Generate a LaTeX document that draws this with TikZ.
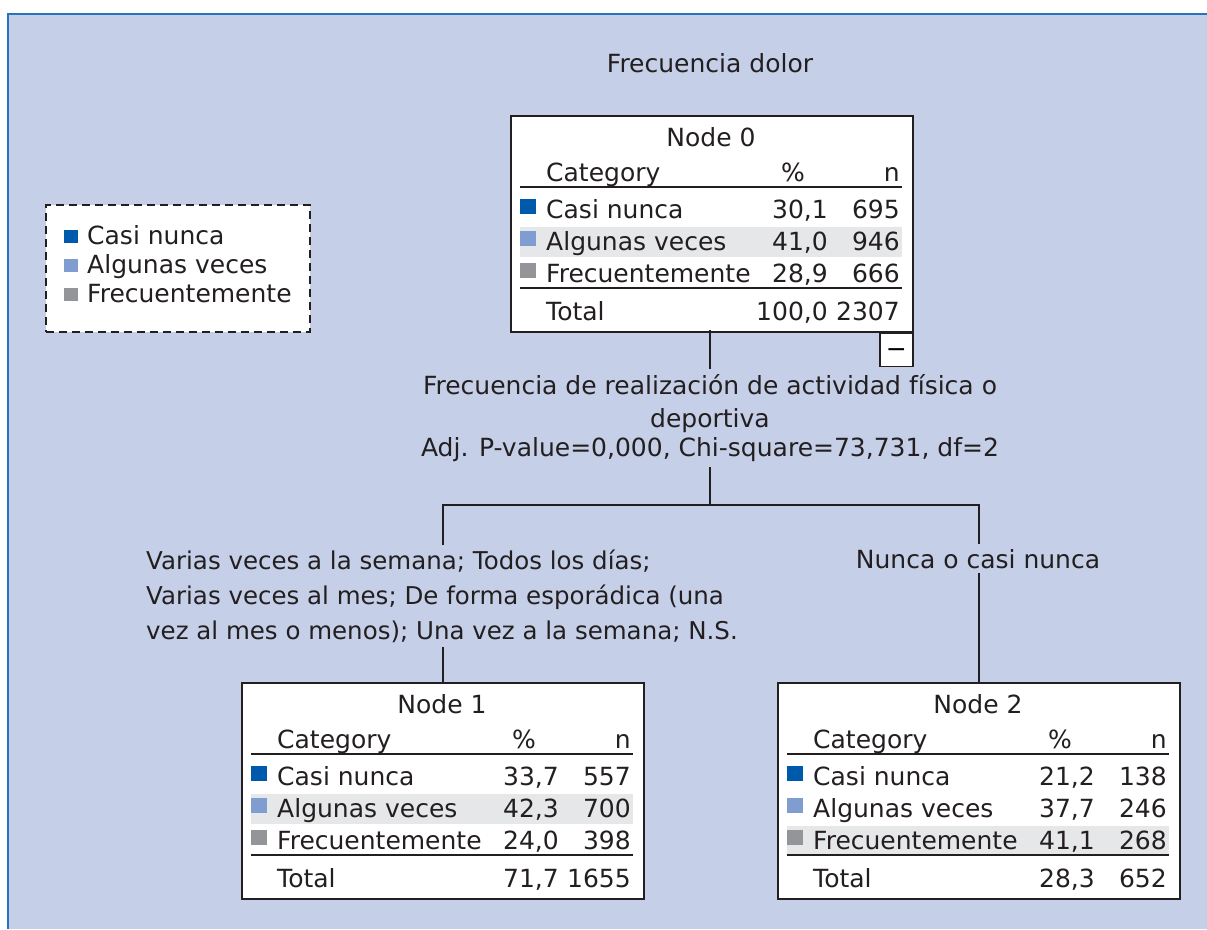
\documentclass[tikz,border=0pt]{standalone}
\usepackage{fontspec}
\setmainfont{DejaVu Sans}
\usetikzlibrary{positioning}

\definecolor{bgcol}{HTML}{C5CFE7}
\definecolor{edgeblue}{HTML}{2673BF}
\definecolor{framecol}{HTML}{231F20}
\definecolor{casicol}{HTML}{005AAB}
\definecolor{algcol}{HTML}{7F9DD1}
\definecolor{freccol}{HTML}{939598}
\definecolor{hlgray}{HTML}{E6E7E9}

\newcommand\tabfont{\fontsize{25}{33}\selectfont}

\tikzset{
  txt/.style={inner sep=0pt, font=\tabfont, text=framecol},
  tabbox/.style={draw=framecol, line width=1.5pt, fill=white, minimum width=402pt, minimum height=216pt, anchor=north west, inner sep=0pt},
  rule/.style={draw=framecol, line width=1.8pt},
  conn/.style={draw=framecol, line width=1.8pt},
  lab/.style={fill=bgcol, inner sep=5pt, font=\tabfont, text=framecol}
}

% one table node of the tree: name, x, y, title, shaded row, rows, total %, total n
\newcommand\spssnode[8]{%
  \begin{scope}[shift={(#2,#3)}]
    \node[tabbox] (#1) at (0,0) {};
    \fill[hlgray] (10,{80+32*#5}) rectangle (392,{110+32*#5});
    \node[txt, anchor=base] (#1-title) at (201,31) {#4};
    \node[txt, anchor=base west] (#1-cat) at (36,66) {Category};
    \node[txt, anchor=base] (#1-pct) at (283,66) {\%};
    \node[txt, anchor=base east] (#1-n) at (390,66) {n};
    \draw[rule] (10,72) -- (392,72);
    \foreach \col/\cat/\pc/\nn [count=\i from 0] in {#6} {
      \fill[\col] (10,{84+32*\i}) rectangle +(16,15);
      \node[txt, anchor=base west] (#1-c\i) at (36,{103+32*\i}) {\cat};
      \node[txt, anchor=base east] (#1-p\i) at (318,{103+32*\i}) {\pc};
      \node[txt, anchor=base east] (#1-n\i) at (390,{103+32*\i}) {\nn};
    }
    \draw[rule] (10,173) -- (392,173);
    \node[txt, anchor=base west] (#1-tot) at (36,205) {Total};
    \node[txt, anchor=base east] (#1-ptot) at (318,205) {#7};
    \node[txt, anchor=base east] (#1-ntot) at (390,205) {#8};
  \end{scope}}

\begin{document}
\begin{tikzpicture}[x=1pt, y=-1pt]
  \useasboundingbox (0,0) rectangle (1207,929);
  \fill[bgcol] (8,14) rectangle (1207,929);
  \draw[edgeblue, line width=1.5pt] (8,929) -- (8,14) -- (1207,14);

  % title and legend
  \node[txt, anchor=base] (title) at (710,72) {Frecuencia dolor};
  \node[draw=framecol, fill=white, dashed, dash pattern=on 8pt off 5pt, line width=1.5pt, minimum width=264pt, minimum height=127pt, anchor=north west] (legend) at (45,204) {};
  \foreach \col/\cat [count=\i from 0] in {casicol/Casi nunca, algcol/Algunas veces, freccol/Frecuentemente} {
    \fill[\col] (64,{230+29*\i}) rectangle +(14,13);
    \node[txt, anchor=base west] (leg\i) at (87,{244+29*\i}) {\cat};
  }

  % tree nodes
  \spssnode{n0}{510}{115}{Node 0}{1}{casicol/Casi nunca/{30,1}/695, algcol/Algunas veces/{41,0}/946, freccol/Frecuentemente/{28,9}/666}{100,0}{2307}
  \spssnode{n1}{241}{682}{Node 1}{1}{casicol/Casi nunca/{33,7}/557, algcol/Algunas veces/{42,3}/700, freccol/Frecuentemente/{24,0}/398}{71,7}{1655}
  \spssnode{n2}{777}{682}{Node 2}{2}{casicol/Casi nunca/{21,2}/138, algcol/Algunas veces/{37,7}/246, freccol/Frecuentemente/{41,1}/268}{28,3}{652}

  \node[draw=framecol, line width=1.5pt, fill=white, minimum size=33pt, inner sep=0pt, anchor=north east, font=\tabfont] (coll) at (n0.south east) {\smash{\raisebox{-7.5pt}{−}}};

  % connectors
  \coordinate (j0) at (710,505);
  \draw[conn] (710,330) -- (j0);
  \draw[conn] (j0) -| (n1.north);
  \draw[conn] (j0) -| (n2.north);

  % split labels
  \node[lab, align=center] (split) at (710,418) {Frecuencia de realización de actividad física o\\deportiva\\[-4pt]Adj. P-value=0,000, Chi-square=73,731, df=2};
  \node[lab, align=left, font=\fontsize{24.5}{33}\selectfont] (lab1) at (442,596) {Varias veces a la semana; Todos los días;\\[2pt]Varias veces al mes; De forma esporádica (una\\[2pt]vez al mes o menos); Una vez a la semana; N.S.};
  \node[lab, anchor=base] (lab2) at (978,568) {Nunca o casi nunca};
\end{tikzpicture}
\end{document}
